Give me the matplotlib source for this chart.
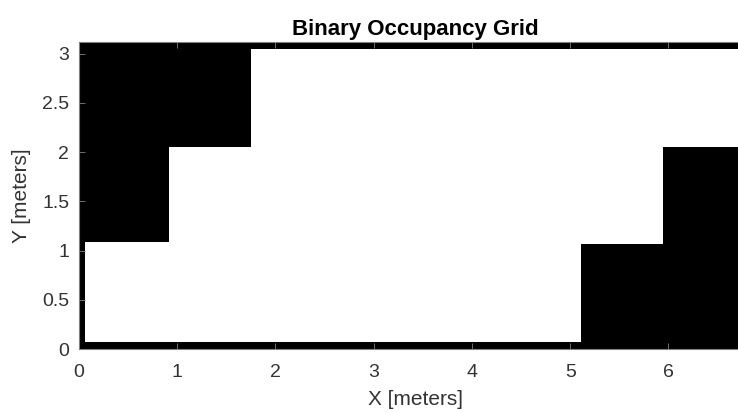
import matplotlib
matplotlib.use("Agg")
import matplotlib.pyplot as plt
from matplotlib.patches import Rectangle

plt.rcParams['font.family'] = ['Liberation Sans', 'DejaVu Sans']

# Occupied regions of the map (meters): x start, x end, y start, y end
obs_x0 = [0.00, 0.00, 0.915, 5.107, 5.94, 0.00, 0.00]
obs_x1 = [0.915, 0.062, 1.75, 5.94, 6.84, 6.84, 6.84]
obs_y0 = [1.086, 0.00, 2.05, 0.00, 0.00, 0.00, 3.05]
obs_y1 = [3.117, 1.086, 3.117, 1.066, 2.05, 0.072, 3.117]

x_limits = (0, 6.84)
y_limits = (0, 3.117)
x_ticks = [0, 1, 2, 3, 4, 5, 6]
y_ticks = [0, 0.5, 1, 1.5, 2, 2.5, 3]
y_tick_labels = ['0', '0.5', '1', '1.5', '2', '2.5', '3']

W, H = 738, 413
fig = plt.figure(figsize=(W / 100, H / 100), dpi=100)
ax = fig.add_axes([79 / W, (H - 349) / H, (751 - 79) / W, (349 - 42) / H])

for x0, x1, y0, y1 in zip(obs_x0, obs_x1, obs_y0, obs_y1):
    ax.add_patch(Rectangle((x0, y0), x1 - x0, y1 - y0, facecolor='black',
                           edgecolor='none', zorder=1))

ax.set_xlim(*x_limits)
ax.set_ylim(*y_limits)
ax.set_xticks(x_ticks)
ax.set_yticks(y_ticks)
ax.set_yticklabels(y_tick_labels)

gray = '#333333'
for s in ax.spines.values():
    s.set_color('#808080')
    s.set_linewidth(0.8)
    s.set_zorder(3)
ax.tick_params(direction='in', length=4, width=0.6, color='#808080',
               labelcolor=gray, labelsize=14, top=True, right=True)
ax.tick_params(axis='x', pad=11)
ax.tick_params(axis='y', pad=7)

ax.set_xlabel('X [meters]', fontsize=15, color=gray, labelpad=6)
ax.set_ylabel('Y [meters]', fontsize=15, color=gray, labelpad=8)
ax.set_title('Binary Occupancy Grid', fontsize=16, fontweight='bold',
             color='black', pad=5)

fig.savefig('out.png', dpi=100)
